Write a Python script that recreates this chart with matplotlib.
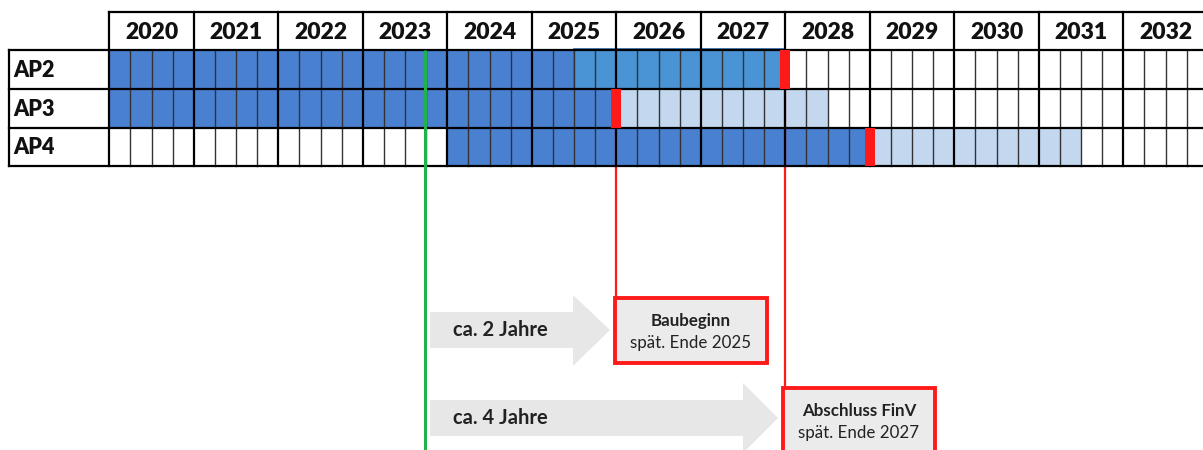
import matplotlib
matplotlib.use("Agg")
import matplotlib.pyplot as plt
from matplotlib.patches import Rectangle, Polygon

plt.rcParams['font.family'] = ['Lato', 'DejaVu Sans']

# ---------------- data ----------------
years = list(range(2020, 2033))
rows = ["AP2", "AP3", "AP4"]
# completed / planned (dark) segments per row: (start, end)
dark_start = [2020.0, 2020.0, 2024.0]
dark_end = [2025.5, 2026.0, 2029.0]
# AP2 additional medium block
mid_start = [2025.5, None, None]
mid_end = [2028.0, None, None]
# light (follow-up) segments
light_start = [None, 2026.0, 2029.0]
light_end = [None, 2028.5, 2031.5]
# milestones (red markers)
milestones = [2028.0, 2026.0, 2029.0]
today = 2023.74
arrow_labels = ["ca. 2 Jahre", "ca. 4 Jahre"]
box_titles = ["Baubeginn", "Abschluss FinV"]
box_subtitles = ["spät. Ende 2025", "spät. Ende 2027"]
box_milestone_rows = [1, 0]  # which row milestone connects to each box

# ---------------- layout ----------------
W, H = 1203, 450
X0PX, YW = 109.3, 84.5          # pixel of 2020 start, px per year
def X(px):
    return 2020 + (px - X0PX) / YW

fig = plt.figure(figsize=(W / 100, H / 100), dpi=100)
ax = fig.add_axes([0, 0, 1, 1])
ax.set_xlim(X(0), X(W))
ax.set_ylim(H, 0)
ax.axis('off')

row_edges = [12.3, 50.0, 89.0, 127.7, 165.7]
header_top, header_bot = row_edges[0], row_edges[1]
table_bot = row_edges[-1]

DARK = '#4a80d0'
MID = '#4a93d4'
LIGHT = '#c3d8ef'
RED = '#ff1a1a'
GREEN = '#22b24c'
GRAY = '#e7e7e7'

xr = X(W)

# fills
for i in range(len(rows)):
    top, bot = row_edges[i + 1], row_edges[i + 2]
    if dark_start[i] is not None:
        ax.add_patch(Rectangle((dark_start[i], top), dark_end[i] - dark_start[i], bot - top,
                               facecolor=DARK, edgecolor='none', zorder=1))
    if mid_start[i] is not None:
        ax.add_patch(Rectangle((mid_start[i], top - 1.5), mid_end[i] - mid_start[i], bot - top + 1.5,
                               facecolor=MID, edgecolor='#2f6fb4', lw=1.2, zorder=1))
    if light_start[i] is not None:
        ax.add_patch(Rectangle((light_start[i], top), light_end[i] - light_start[i], bot - top,
                               facecolor=LIGHT, edgecolor='none', zorder=1))

# red connector lines (beneath grid)
box_specs = [  # (left px, top px, right px, bottom px)
    (615, 298, 767, 363),
    (783, 388, 935, 470),
]
for b, (l, t, r, bm) in enumerate(box_specs):
    ri = box_milestone_rows[b]
    ms = milestones[ri]
    ax.plot([ms, ms], [row_edges[ri + 2], t], color=RED, lw=1.6, zorder=2,
            solid_capstyle='butt')

# grid: quarter lines
for y in years:
    for q in range(1, 4):
        xq = y + q / 4
        if xq < xr:
            ax.plot([xq, xq], [header_bot, table_bot], color='#333333', lw=1.0, zorder=3)
# year lines
for y in years:
    ax.plot([y, y], [header_top, table_bot], color='black', lw=1.6, zorder=4)
# horizontal lines
for k, ye in enumerate(row_edges):
    ax.plot([2020 if k == 0 else X(9), xr], [ye, ye], color='black', lw=1.6, zorder=4)
# label column
ax.plot([X(9), X(9)], [header_bot, table_bot], color='black', lw=1.6, zorder=4)

# year labels
for y in years:
    cx = y + 0.5
    if cx < xr:
        ax.text(cx, (header_top + header_bot) / 2 + 1, str(y), ha='center', va='center',
                fontsize=16.5, fontweight='heavy', color='#111111', zorder=5)
# row labels
for i, r in enumerate(rows):
    ax.text(X(13), (row_edges[i + 1] + row_edges[i + 2]) / 2 + 1, r, ha='left', va='center',
            fontsize=15.5, fontweight='heavy', color='#111111', zorder=5)

# milestones
mw = 10 / YW
for i, ms in enumerate(milestones):
    top, bot = row_edges[i + 1], row_edges[i + 2]
    ax.add_patch(Rectangle((ms - mw / 2, top), mw, bot - top, facecolor=RED,
                           edgecolor='none', zorder=6))

# today line
ax.plot([today, today], [header_bot, H + 5], color=GREEN, lw=2.2, zorder=6,
        solid_capstyle='butt')

# arrows
arrow_specs = [  # body left, head start, tip, body top, body bottom, head top, head bottom
    (430, 573, 610, 312, 348, 295, 366),
    (430, 743, 778, 400, 436, 383, 453),
]
for a, (bl, hs, tp, bt, bb, ht, hb) in enumerate(arrow_specs):
    cy = (bt + bb) / 2
    pts = [(X(bl), bt), (X(hs), bt), (X(hs), ht), (X(tp), cy), (X(hs), hb),
           (X(hs), bb), (X(bl), bb)]
    ax.add_patch(Polygon(pts, closed=True, facecolor=GRAY, edgecolor='none', zorder=1))
    ax.text(X(453), cy, arrow_labels[a], ha='left', va='center', fontsize=14.5,
            fontweight='bold', color='#222222', zorder=5)

# boxes
for b, (l, t, r, bm) in enumerate(box_specs):
    ax.add_patch(Rectangle((X(l), t), X(r) - X(l), bm - t, facecolor='#ebebeb',
                           edgecolor=RED, lw=2.8, zorder=5))
    cx = X((l + r) / 2)
    ax.text(cx, t + 23, box_titles[b], ha='center', va='center', fontsize=12.2,
            fontweight='bold', color='#222222', zorder=6)
    ax.text(cx, t + 45, box_subtitles[b], ha='center', va='center', fontsize=12.2,
            color='#222222', zorder=6)

fig.savefig('out.png', dpi=100, facecolor='white')
